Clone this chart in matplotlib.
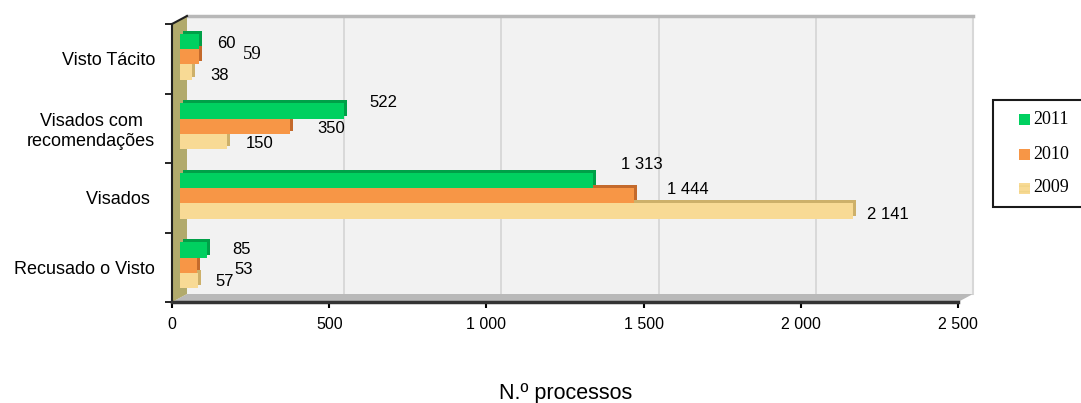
import matplotlib
matplotlib.use("Agg")
import matplotlib.pyplot as plt
from matplotlib.patches import Polygon, Rectangle
from matplotlib.transforms import Affine2D

#====================DATA====================

categories = ["Recusado o Visto", "Visados ", "Visados com\nrecomendações", "Visto Tácito"]
years = ["2011", "2010", "2009"]
values_2011 = [85, 1313, 522, 60]
values_2010 = [53, 1444, 350, 59]
values_2009 = [57, 2141, 150, 38]
x_ticks = [0, 500, 1000, 1500, 2000, 2500]
x_tick_labels = ["0", "500", "1 000", "1 500", "2 000", "2 500"]
x_label = "N.º processos"

#====================STYLE====================

W, H = 1081, 403
face_colors = ["#00d060", "#f79646", "#f8da95"]
side_colors = ["#00a048", "#c46a2c", "#cdb06a"]
# label offsets in pixels (dx right of bar end, dy down from bar centre), per category/year
label_offsets = [
    [(43, -2), (55, 2), (35, -1)],
    [(57, -18), (62, -8), (43, 1)],
    [(47, -10), (49, 0), (40, 0)],
    [(36, 0), (62, -4), (36, 1)],
]

plt.rcParams["font.family"] = ["Liberation Sans", "DejaVu Sans"]


def fx(px):
    return px / W


def fy(py):
    return 1 - py / H


fig = plt.figure(figsize=(W / 100, H / 100), dpi=100)
fig.patch.set_facecolor("white")

# back wall
wall = fig.add_axes([fx(187), fy(294), 786 / W, 278 / H], zorder=1)
wall.set_xlim(0, 2500)
wall.set_ylim(-0.5, 3.5)
wall.set_facecolor("#f2f2f2")
wall.set_xticks(x_ticks[1:-1])
wall.set_yticks([])
wall.tick_params(axis="x", length=0, labelbottom=False)
wall.grid(axis="x", color="#d4d4d4", linewidth=1.2)
for side in ["left", "bottom"]:
    wall.spines[side].set_visible(False)
wall.spines["top"].set_color("#b8b8b8")
wall.spines["top"].set_linewidth(2.5)
wall.spines["right"].set_color("#d8d8d8")
wall.spines["right"].set_linewidth(1.5)

# floor and left wall
fig.add_artist(Polygon([(fx(172), fy(302)), (fx(958), fy(302)), (fx(973), fy(294)), (fx(187), fy(294))],
                       closed=True, transform=fig.transFigure, facecolor="#b9b9b9", edgecolor="none", zorder=2))
fig.add_artist(Polygon([(fx(172), fy(24)), (fx(187), fy(16)), (fx(187), fy(294)), (fx(172), fy(302))],
                       closed=True, transform=fig.transFigure, facecolor="#b1aa6c", edgecolor="none", zorder=2))
fig.add_artist(plt.Line2D([fx(172), fx(187)], [fy(24), fy(16)], transform=fig.transFigure,
                          color="#202020", linewidth=1.5, zorder=5))

# front frame
ax = fig.add_axes([fx(172), fy(302), 786 / W, 278 / H], zorder=3)
ax.set_xlim(0, 2500)
ax.set_ylim(-0.5, 3.5)
ax.patch.set_visible(False)

pos = list(range(len(categories)))
h = 0.223
shift = [h, 0, -h]
series = [values_2011, values_2010, values_2009]

front_tr = ax.transData + Affine2D().translate(8, 2)
side_tr = ax.transData + Affine2D().translate(11, 5)

for i, vals in enumerate(series):
    ypos = [p + shift[i] for p in pos]
    ax.barh(ypos, vals, height=h, color=side_colors[i], transform=side_tr, zorder=2)
for i, vals in enumerate(series):
    ypos = [p + shift[i] for p in pos]
    ax.barh(ypos, vals, height=h, color=face_colors[i], transform=front_tr, zorder=3)

for c in pos:
    for i, vals in enumerate(series):
        v = vals[c]
        txt = f"{v:,}".replace(",", " ")
        dx, dy = label_offsets[c][i]
        if c == 3 and i == 1:
            fam, size = ["Liberation Serif"], 13.5
        else:
            fam, size = ["Liberation Sans"], 12
        ax.annotate(txt, xy=(v, pos[c] + shift[i]), xytext=(dx, -dy), textcoords="offset pixels",
                    ha="center", va="center", fontsize=size, family=fam, zorder=6)

ax.set_xticks(x_ticks)
ax.set_xticklabels(x_tick_labels, fontsize=11.5)
ax.tick_params(axis="x", direction="out", length=4, width=1.5, pad=7)
ax.set_yticks([-0.5, 0.5, 1.5, 2.5, 3.5])
ax.set_yticklabels([])
ax.set_yticks(pos, minor=True)
ax.set_yticklabels(categories, minor=True, fontsize=13, ha="right", multialignment="center")
ax.tick_params(axis="y", which="major", direction="out", length=5, width=1.2)
ax.tick_params(axis="y", which="minor", length=0, pad=12)
for side in ["top", "right"]:
    ax.spines[side].set_visible(False)
ax.spines["bottom"].set_color("#333333")
ax.spines["bottom"].set_linewidth(2.5)
ax.spines["left"].set_color("#202020")
ax.spines["left"].set_linewidth(1.5)

fig.text(fx(566), fy(393), x_label, ha="center", va="center", fontsize=15.5)

# legend box
fig.add_artist(Rectangle((fx(993), fy(207)), fx(100), 107 / H, transform=fig.transFigure,
                         facecolor="white", edgecolor="#1a1a1a", linewidth=1.5, zorder=4))
legend_rows = [119, 154, 188]
for i, yr in enumerate(years):
    hatch = "---" if i == 2 else None
    fig.add_artist(Rectangle((fx(1019), fy(legend_rows[i] + 6)), 11 / W, 11 / H, transform=fig.transFigure,
                             facecolor=face_colors[i], edgecolor="#f0d488" if hatch else "none",
                             linewidth=0, hatch=hatch, zorder=5))
    fig.text(fx(1033), fy(legend_rows[i]), yr, ha="left", va="center", fontsize=13,
             family=["Liberation Serif"], zorder=5)

fig.savefig("out.png", dpi=100)
